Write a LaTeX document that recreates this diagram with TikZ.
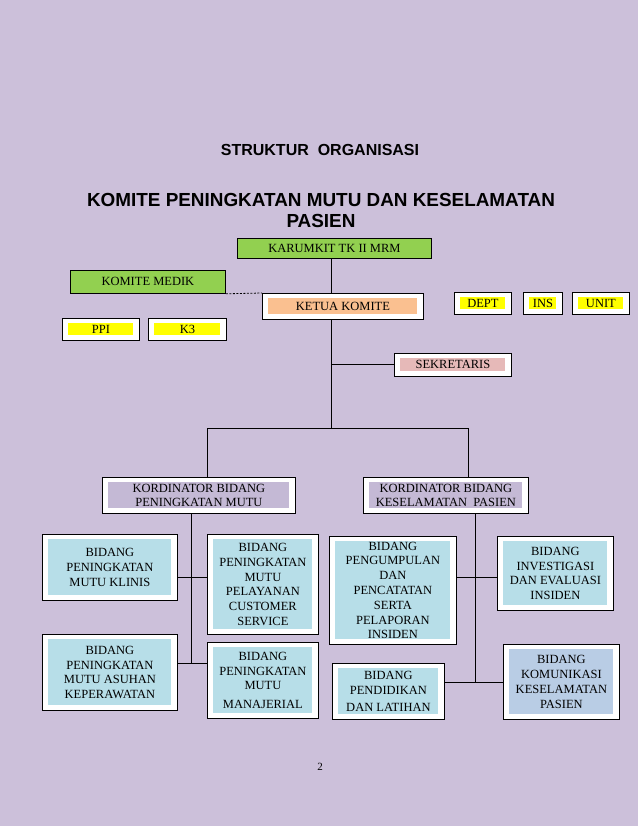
\documentclass[tikz,border=0pt]{standalone}
\usepackage{fontspec}
\setmainfont{Liberation Serif}
\newfontfamily\headfont{Liberation Sans}
\definecolor{pagebg}{RGB}{204,192,218}
\definecolor{hijau}{RGB}{146,208,80}
\definecolor{oranye}{RGB}{250,192,144}
\definecolor{kuning}{RGB}{255,255,0}
\definecolor{merahmuda}{RGB}{230,185,184}
\definecolor{ungu}{RGB}{196,185,213}
\definecolor{biru}{RGB}{183,222,232}
\definecolor{birutua}{RGB}{185,205,229}
\tikzset{
  kotak/.style={draw, line width=0.8pt, fill=white, anchor=north west, inner sep=0pt, align=center,
    font=\fontsize{12.5}{14.8}\selectfont,
    path picture={\fill[#1] ([shift={(6pt,-5pt)}]path picture bounding box.north west)
      rectangle ([shift={(-6pt,5pt)}]path picture bounding box.south east);}},
  polos/.style={draw, line width=0.8pt, fill=#1, anchor=north west, inner sep=0pt,
    font=\fontsize{12.5}{14.8}\selectfont},
  garis/.style={line width=0.9pt}
}
\begin{document}
\begin{tikzpicture}[x=1pt, y=-1pt]
  \fill[pagebg] (0,0) rectangle (638,826);
  \useasboundingbox (0,0) rectangle (638,826);
  \node[font=\headfont\bfseries\fontsize{16}{18}\selectfont] (judul) at (320,150) {STRUKTUR\ \ ORGANISASI};
  \node[font=\headfont\bfseries\fontsize{18.9}{21}\selectfont, align=center, inner sep=0pt] (komite) at (321,210)
    {KOMITE PENINGKATAN MUTU DAN KESELAMATAN\\PASIEN};
  \node[polos=hijau, minimum width=194pt, minimum height=20pt] (karumkit) at (237,238) {KARUMKIT TK II MRM};
  \node[polos=hijau, minimum width=155pt, minimum height=23pt] (medik) at (70,270) {KOMITE MEDIK};
  \node[kotak=oranye, minimum width=161pt, minimum height=26pt] (ketua) at (262,293) {KETUA KOMITE};
  \node[kotak=kuning, minimum width=77pt, minimum height=22pt] (ppi) at (62,318) {PPI};
  \node[kotak=kuning, minimum width=78pt, minimum height=22pt] (k3) at (148,318) {K3};
  \node[kotak=kuning, minimum width=57pt, minimum height=22pt] (dept) at (454,292) {DEPT};
  \node[kotak=kuning, minimum width=39pt, minimum height=22pt] (ins) at (523,292) {INS};
  \node[kotak=kuning, minimum width=57pt, minimum height=22pt] (unit) at (572,292) {UNIT};
  \node[kotak=merahmuda, minimum width=117pt, minimum height=23pt] (sekretaris) at (394,353) {SEKRETARIS};
  \node[kotak=ungu, minimum width=193pt, minimum height=36pt] (korL) at (102,477) {KORDINATOR BIDANG\\PENINGKATAN MUTU};
  \node[kotak=ungu, minimum width=165pt, minimum height=36pt] (korR) at (363,477) {KORDINATOR BIDANG\\KESELAMATAN\ \ PASIEN};
  \node[kotak=biru, minimum width=135pt, minimum height=66pt] (klinis) at (42,534) {BIDANG\\PENINGKATAN\\MUTU KLINIS};
  \node[kotak=biru, minimum width=111pt, minimum height=100pt] (pelayanan) at (207,534)
    {BIDANG\\PENINGKATAN\\MUTU\\PELAYANAN\\CUSTOMER\\SERVICE};
  \node[kotak=biru, minimum width=135pt, minimum height=76pt] (asuhan) at (42,634)
    {BIDANG\\PENINGKATAN\\MUTU ASUHAN\\KEPERAWATAN};
  \node[kotak=biru, minimum width=111pt, minimum height=76pt] (manajerial) at (207,642)
    {BIDANG\\PENINGKATAN\\MUTU\\[4pt]MANAJERIAL};
  \node[kotak=biru, minimum width=127pt, minimum height=108pt] (pengumpulan) at (329,536)
    {BIDANG\\PENGUMPULAN\\DAN\\PENCATATAN\\SERTA\\PELAPORAN\\INSIDEN};
  \node[kotak=biru, minimum width=116pt, minimum height=74pt] (investigasi) at (497,536)
    {BIDANG\\INVESTIGASI\\DAN EVALUASI\\INSIDEN};
  \node[kotak=biru, minimum width=112pt, minimum height=56pt] (pendidikan) at (332,663)
    {BIDANG\\PENDIDIKAN\\[2pt]DAN LATIHAN};
  \node[kotak=birutua, minimum width=116pt, minimum height=75pt] (komunikasi) at (503,644)
    {BIDANG\\KOMUNIKASI\\KESELAMATAN\\PASIEN};
  \node[font=\fontsize{11}{13}\selectfont] (halaman) at (320,767) {2};

  \coordinate (spine) at (331,428);
  \coordinate (cabangL) at (207,428);
  \coordinate (cabangR) at (468,428);
  \coordinate (batangL) at (191,663);
  \coordinate (batangR) at (475,682);
  \coordinate (baris) at (0,577);
  \draw[garis] (karumkit.south -| spine) -- (ketua.north -| spine);
  \draw[garis] (ketua.south -| spine) -- (spine);
  \draw[garis] (sekretaris.west -| spine) -- (sekretaris.west);
  \draw[garis] (korL.north -| cabangL) |- (cabangR) -- (korR.north -| cabangR);
  \draw[line width=0.8pt, dash pattern=on 2pt off 1.5pt] (medik.south east) -- (ketua.north west);
  \draw[garis] (korL.south -| batangL) -- (batangL);
  \draw[garis] (klinis.east |- baris) -- (pelayanan.west |- baris);
  \draw[garis] (asuhan.east |- batangL) -- (manajerial.west |- batangL);
  \draw[garis] (korR.south -| batangR) -- (batangR);
  \draw[garis] (pengumpulan.east |- baris) -- (investigasi.west |- baris);
  \draw[garis] (pendidikan.east |- batangR) -- (komunikasi.west |- batangR);
\end{tikzpicture}
\end{document}
